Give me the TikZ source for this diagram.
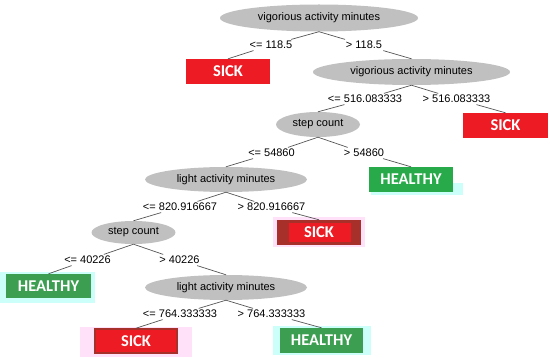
\documentclass[tikz,border=0pt]{standalone}
\usepackage{fontspec}
\setmainfont{Liberation Sans}
\newfontfamily\calib{Carlito}
\usetikzlibrary{shapes.geometric}
\definecolor{ellgray}{RGB}{192,192,192}
\definecolor{sickred}{RGB}{237,28,36}
\definecolor{brownred}{RGB}{168,48,42}
\definecolor{greenA}{RGB}{40,170,75}
\definecolor{greenB}{RGB}{60,158,80}
\definecolor{pinkglow}{RGB}{255,226,250}
\definecolor{cyanglow}{RGB}{205,255,250}
\definecolor{linecol}{RGB}{85,85,85}
\begin{document}
\begin{tikzpicture}[x=1pt,y=-1pt,
  ell/.style={ellipse, fill=ellgray, inner sep=0pt, minimum height=25pt, font=\fontsize{11}{13}\selectfont},
  cond/.style={inner sep=1.5pt, font=\fontsize{11}{13}\selectfont},
  leaf/.style={rectangle, inner sep=0pt, minimum width=84pt, minimum height=25pt, text=white, font=\calib\bfseries\fontsize{16.5}{18}\selectfont},
  sick/.style={leaf, fill=sickred},
  sickband/.style={leaf, fill=brownred, path picture={\fill[sickred] ([xshift=12pt,yshift=3pt]path picture bounding box.south west) rectangle ([xshift=-10pt,yshift=-3pt]path picture bounding box.north east);}},
  sickedge/.style={leaf, fill=sickred, draw=brownred, line width=1.6pt, text=white!92!pink},
  healthy/.style={leaf, fill=greenA},
  healthyB/.style={leaf, fill=greenB},
  pglow/.style={rectangle, fill=pinkglow, inner sep=0pt},
  cglow/.style={rectangle, fill=cyanglow, inner sep=0pt},
  edge/.style={draw=linecol, line width=0.7pt}
]
\useasboundingbox (0,0) rectangle (550,358);
% glows
\node[pglow, minimum width=92pt, minimum height=30pt] (g3) at (319,232) {};
\node[pglow, minimum width=112pt, minimum height=30pt] (g4) at (136,342) {};
\node[cglow, minimum width=95pt, minimum height=31pt] (gh2) at (47.5,287.5) {};
\node[cglow, minimum width=98pt, minimum height=29pt] (gh3) at (322,341) {};
\node[cglow, minimum width=92pt, minimum height=12pt] (gh1) at (417,189) {};
% decision nodes
\node[ell, minimum width=198pt, minimum height=27pt] (n1) at (319,18) {vigorious activity minutes};
\node[ell, minimum width=197pt, minimum height=26pt] (n2) at (411.5,72) {vigorious activity minutes};
\node[ell, minimum width=84pt] (n3) at (318,124.5) {step count};
\node[ell, minimum width=162pt] (n4) at (226,179.5) {light activity minutes};
\node[ell, minimum width=84pt, minimum height=23pt] (n5) at (133.5,232.5) {step count};
\node[ell, minimum width=162pt] (n6) at (226,287.5) {light activity minutes};
% leaves
\node[sick] (s1) at (228,71.5) {SICK};
\node[sick, minimum width=85pt] (s2) at (505.5,125.5) {SICK};
\node[healthy] (h1) at (411,179.5) {HEALTHY};
\node[sickband] (s3) at (319,232.5) {SICK};
\node[healthyB, minimum width=85pt, minimum height=24pt] (h2) at (48.5,286) {HEALTHY};
\node[sickedge, minimum width=82pt, minimum height=24pt] (s4) at (136,341) {SICK};
\node[healthyB, minimum width=83pt] (h3) at (321.5,340.5) {HEALTHY};
% conditions
\node[cond] (c1a) at (271,45) {<= 118.5};
\node[cond] (c1b) at (364,45) {> 118.5};
\node[cond] (c2a) at (365,99) {<= 516.083333};
\node[cond] (c2b) at (456.5,99) {> 516.083333};
\node[cond] (c3a) at (271.5,153) {<= 54860};
\node[cond] (c3b) at (364,153) {> 54860};
\node[cond] (c4a) at (180,207) {<= 820.916667};
\node[cond] (c4b) at (271.5,207) {> 820.916667};
\node[cond] (c5a) at (87.5,260) {<= 40226};
\node[cond] (c5b) at (179.5,260) {> 40226};
\node[cond] (c6a) at (180,314) {<= 764.333333};
\node[cond] (c6b) at (271.5,314) {> 764.333333};
% edges
\path[edge] (n1.south) -- (c1a) (c1a) -- (s1.north);
\path[edge] (n1.south) -- (c1b) (c1b) -- (n2.north);
\path[edge] (n2.south) -- (c2a) (c2a) -- (n3.north);
\path[edge] (n2.south) -- (c2b) (c2b) -- (s2.north);
\path[edge] (n3.south) -- (c3a) (c3a) -- (n4.north);
\path[edge] (n3.south) -- (c3b) (c3b) -- (h1.north);
\path[edge] (n4.south) -- (c4a) (c4a) -- (n5.north);
\path[edge] (n4.south) -- (c4b) (c4b) -- (s3.north);
\path[edge] (n5.south) -- (c5a) (c5a) -- (h2.north);
\path[edge] (n5.south) -- (c5b) (c5b) -- (n6.north);
\path[edge] (n6.south) -- (c6a) (c6a) -- (s4.north);
\path[edge] (n6.south) -- (c6b) (c6b) -- (h3.north);
\end{tikzpicture}
\end{document}
